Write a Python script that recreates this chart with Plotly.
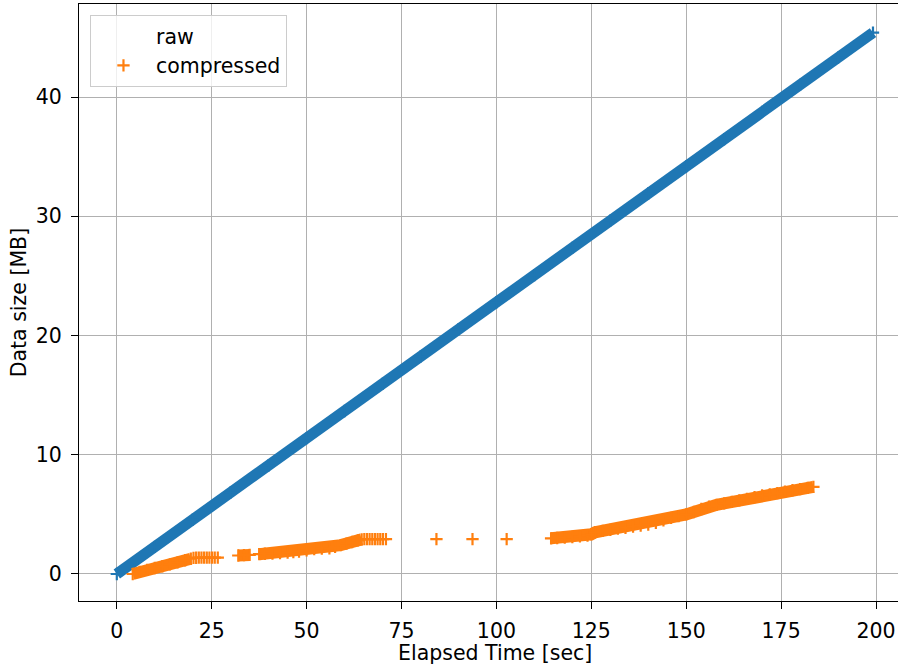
import plotly.graph_objects as go

# ---------------- data ----------------
raw_t = [0, 10, 20, 30, 40, 50, 60, 70, 80, 90, 100, 110, 120, 130, 140, 150,
         160, 170, 180, 190, 199.2]
raw_y = [0.0, 2.28, 4.56, 6.84, 9.12, 11.4, 13.67, 15.95, 18.23, 20.51, 22.79,
         25.07, 27.35, 29.63, 31.91, 34.19, 36.47, 38.75, 41.02, 43.3, 45.4]

# compressed: continuous (dense) stretches, None separates stretches
comp_t = [4.2, 6, 8, 10, 12, 14, 16, 18, 19.5, None,
          32, 33.5, 35, None,
          37.5, 39, 41, 43, 45, 46.5, 48, 50, 52, 54, 56, 57.5, 59, 60.5, 62,
          63.5, 64.5, None,
          114.4, 116, 118, 120, 122, 124, 125, 126, 128, 130, 132, 134, 136,
          138, 140, 142, 144, 146, 148, 150, 152, 154, 156, 158, 160, 162, 164,
          166, 168, 170, 172, 174, 176, 178, 180, 182, 183.5]
comp_y = [0.0, 0.18, 0.34, 0.5, 0.65, 0.8, 0.98, 1.15, 1.28, None,
          1.55, 1.58, 1.6, None,
          1.66, 1.7, 1.72, 1.75, 1.8, 1.84, 1.88, 1.98, 2.08, 2.12, 2.16, 2.28,
          2.42, 2.55, 2.68, 2.82, 2.9, None,
          2.99, 3.02, 3.05, 3.1, 3.15, 3.22, 3.33, 3.5, 3.62, 3.7, 3.8, 3.88,
          3.97, 4.05, 4.15, 4.28, 4.5, 4.7, 4.85, 5.0, 5.2, 5.45, 5.65, 5.8,
          5.92, 6.05, 6.18, 6.3, 6.45, 6.58, 6.68, 6.78, 6.9, 7.02, 7.12,
          7.22, 7.3]

# compressed: sparse samples (individual "+" visible)
sparse_t = [20.2, 20.9, 21.6, 22.3, 23.0, 23.7, 24.4, 25.1, 25.8, 26.6,
            65.2, 65.9, 66.6, 67.3, 68.0, 68.7, 69.4, 70.1, 70.9,
            84.2, 93.7, 102.7]
sparse_y = [1.35, 1.36, 1.37, 1.37, 1.38, 1.38, 1.38, 1.38, 1.38, 1.38,
            2.92, 2.92, 2.92, 2.93, 2.93, 2.93, 2.93, 2.93, 2.93,
            2.92, 2.92, 2.92]

x_ticks = [0, 25, 50, 75, 100, 125, 150, 175, 200]
y_ticks = [0, 10, 20, 30, 40]

BLUE = "#1f77b4"
ORANGE = "#ff7f0e"
FONT = "DejaVu Sans"
FS = 20.5

fig = go.Figure()

# raw band
fig.add_trace(go.Scatter(
    x=raw_t, y=raw_y, mode="lines+markers", showlegend=False,
    line=dict(color=BLUE, width=11),
    marker=dict(symbol="cross-thin", size=8.8, color=BLUE,
                line=dict(color=BLUE, width=2.2)),
    hoverinfo="skip"))
# raw legend entry (no visible symbol)
fig.add_trace(go.Scatter(
    x=[None], y=[None], mode="markers", name="raw",
    marker=dict(symbol="cross-thin", size=8.6, color="rgba(0,0,0,0)",
                line=dict(color="rgba(0,0,0,0)", width=2))))

# compressed dense stretches
fig.add_trace(go.Scatter(
    x=comp_t, y=comp_y, mode="lines+markers", showlegend=False,
    connectgaps=False,
    line=dict(color=ORANGE, width=12),
    marker=dict(symbol="cross-thin", size=8.8, color=ORANGE,
                line=dict(color=ORANGE, width=2.2)),
    hoverinfo="skip"))
# compressed sparse samples + legend
fig.add_trace(go.Scatter(
    x=sparse_t, y=sparse_y, mode="markers", name="compressed",
    marker=dict(symbol="cross-thin", size=8.8, color=ORANGE,
                line=dict(color=ORANGE, width=2.2))))

axis_common = dict(
    showgrid=True, gridcolor="#b0b0b0", gridwidth=1.3,
    zeroline=False, showline=True, linecolor="black", linewidth=1.3,
    ticks="outside", ticklen=7, tickwidth=1.3, tickcolor="black",
    tickfont=dict(family=FONT, size=FS, color="black"),
)

fig.update_xaxes(range=[-9.96, 205.79], tickvals=x_ticks,
                 ticktext=[str(v) for v in x_ticks], mirror=True,
                 ticklabelstandoff=4, **axis_common)
fig.update_yaxes(range=[-2.265, 47.8], tickvals=y_ticks,
                 ticktext=[str(v) for v in y_ticks], mirror=False,
                 ticklabelstandoff=5, **axis_common)

fig.add_annotation(text="Elapsed Time [sec]", xref="paper", yref="paper",
                   x=0.508, y=-0.0871, xanchor="center", yanchor="middle",
                   showarrow=False, font=dict(family=FONT, size=FS, color="black"))
fig.add_annotation(text="Data size [MB]", xref="paper", yref="paper",
                   x=-0.0735, y=0.5, xanchor="center", yanchor="middle",
                   textangle=-90, showarrow=False,
                   font=dict(family=FONT, size=FS, color="black"))

fig.update_layout(
    width=898, height=666,
    margin=dict(l=79, r=0, t=4, b=65, pad=0),
    paper_bgcolor="white", plot_bgcolor="white",
    font=dict(family=FONT, size=FS, color="black"),
    legend=dict(x=0.0134, y=0.9816, xanchor="left", yanchor="top",
                bgcolor="rgba(255,255,255,0.8)", bordercolor="#cccccc",
                borderwidth=1, itemwidth=55,
                font=dict(family=FONT, size=FS, color="black"),
                traceorder="normal"),
)

fig.write_html("out.html")
